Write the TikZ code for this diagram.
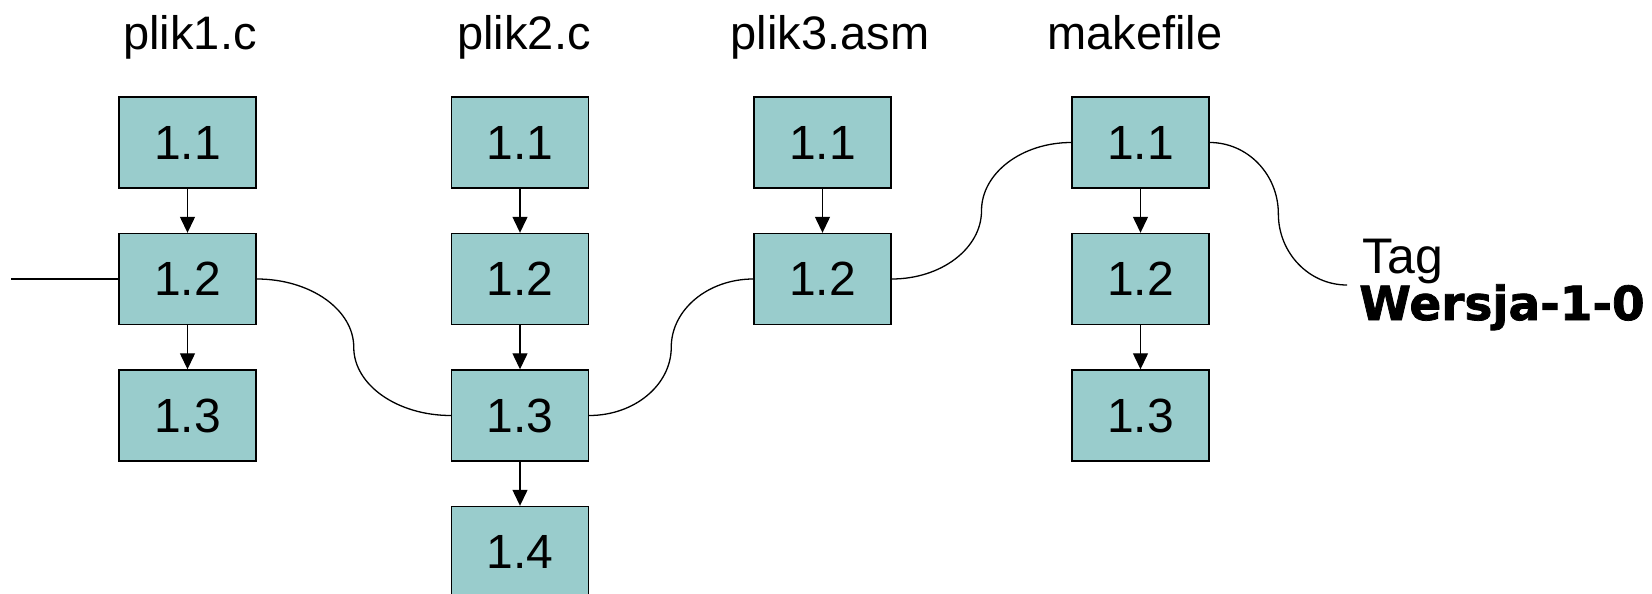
\documentclass[tikz,border=0pt]{standalone}
\usepackage{fontspec}
\setmainfont{Liberation Sans}
\newfontfamily\heavyfont{DejaVu Sans}[BoldFeatures={FakeBold=1.6}]
\usetikzlibrary{arrows.meta,calc}
\definecolor{boxfill}{RGB}{153,204,204}
\tikzset{
  scurve/.style={to path={
    let \p1=(\tikztostart), \p2=(\tikztotarget), \p3=($(\p1)!0.5!(\p2)$) in
    .. controls +({0.552*(\x3-\x1)},0pt) and +(0pt,{0.552*(\y1-\y3)}) .. (\p3)
    .. controls +(0pt,{0.552*(\y2-\y3)}) and +({0.552*(\x3-\x2)},0pt) .. (\p2)}}
}
\begin{document}
\begin{tikzpicture}[x=1pt,y=-1pt,
  ver/.style={draw=black, line width=1.4pt, fill=boxfill, minimum width=137pt,
    minimum height=91pt, inner sep=0pt, font=\fontsize{48}{56}\selectfont},
  fname/.style={anchor=base, inner sep=0pt, font=\fontsize{47}{56}\selectfont},
  succ/.style={-{Triangle[length=16pt,width=15pt]}, line width=1.3pt},
  link/.style={line width=1.3pt, scurve}]
\useasboundingbox (0,0) rectangle (1652,594);

% file names
\node[fname] (l1) at (190,49) {plik1.c};
\node[fname] (l2) at (524,49) {plik2.c};
\node[fname] (l3) at (830,49) {plik3.asm};
\node[fname] (l4) at (1135,49) {makefile};

% plik1.c
\node[ver] (a1) at (187.5,142.5) {1.1};
\node[ver] (a2) at (187.5,279) {1.2};
\node[ver] (a3) at (187.5,415.5) {1.3};
% plik2.c
\node[ver] (b1) at (520,142.5) {1.1};
\node[ver] (b2) at (520,279) {1.2};
\node[ver] (b3) at (520,415.5) {1.3};
\node[ver] (b4) at (520,552) {1.4};
% plik3.asm
\node[ver] (c1) at (822.5,142.5) {1.1};
\node[ver] (c2) at (822.5,279) {1.2};
% makefile
\node[ver] (d1) at (1140.5,142.5) {1.1};
\node[ver] (d2) at (1140.5,279) {1.2};
\node[ver] (d3) at (1140.5,415.5) {1.3};

% tag label
\node[anchor=base west, inner sep=0pt, font=\fontsize{50}{56}\selectfont] (tag) at (1362,273) {Tag};
\node[anchor=base west, inner sep=0pt, font=\heavyfont\bfseries\fontsize{47}{56}\selectfont] (wersja) at (1359,320) {Wersja-1-0};

% successor arrows
\draw[succ] (a1) -- (a2);
\draw[succ] (a2) -- (a3);
\draw[succ] (b1) -- (b2);
\draw[succ] (b2) -- (b3);
\draw[succ] (b3) -- (b4);
\draw[succ] (c1) -- (c2);
\draw[succ] (d1) -- (d2);
\draw[succ] (d2) -- (d3);

% tag line
\coordinate (lstart) at (11,279);
\coordinate (tagend) at (1347,285);
\draw[line width=1.3pt] (lstart) -- (a2.west);
\draw[link] (a2.east) to (b3.west);
\draw[link] (b3.east) to (c2.west);
\draw[link] (c2.east) to (d1.west);
\draw[link] (d1.east) to (tagend);
\end{tikzpicture}
\end{document}
